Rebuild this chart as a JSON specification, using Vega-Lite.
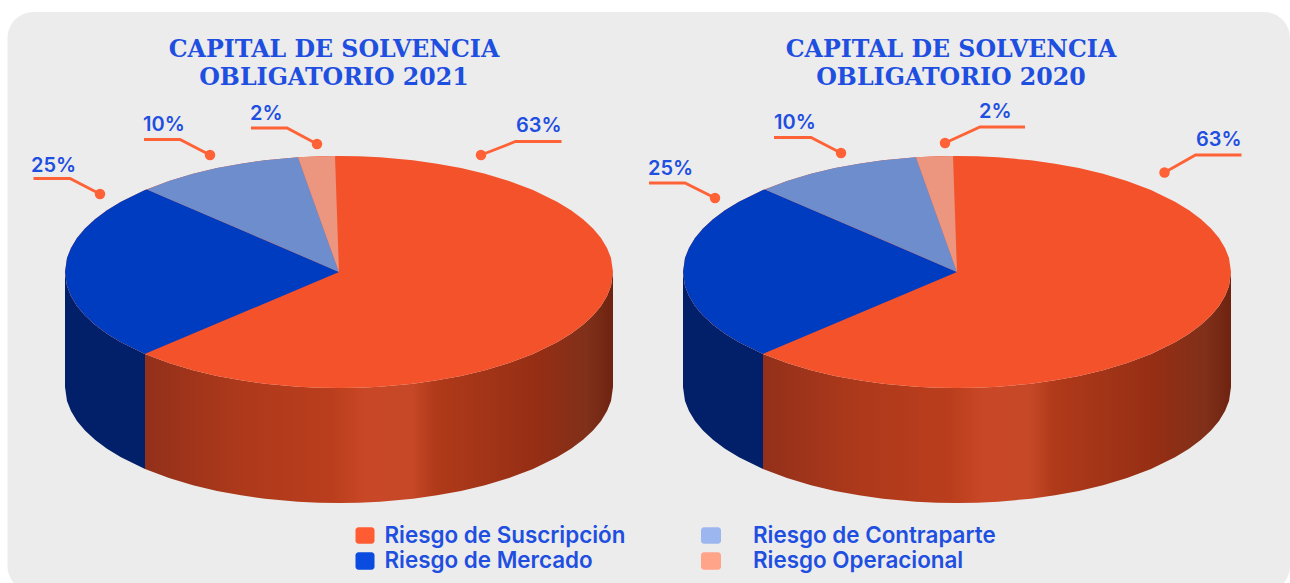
{
"$schema":"https://vega.github.io/schema/vega-lite/v6.json",
"width":1290,"height":583,"padding":0,
"autosize":{"type":"fit","contains":"padding"},
"background":"#ffffff",
"config":{"view":{"stroke":null}},
"datasets":{
"contorno":[
{"anio":2021,"x":6.5,"arriba":27.2,"abajo":27.2,"base":38.7},
{"anio":2021,"x":6.7,"arriba":25.8,"abajo":28.6,"base":40.1},
{"anio":2021,"x":7.1,"arriba":24.79,"abajo":29.61,"base":41.11},
{"anio":2021,"x":7.7,"arriba":23.8,"abajo":30.6,"base":42.1},
{"anio":2021,"x":8.5,"arriba":22.85,"abajo":31.55,"base":43.05},
{"anio":2021,"x":9.5,"arriba":21.92,"abajo":32.48,"base":43.98},
{"anio":2021,"x":10.7,"arriba":21.03,"abajo":33.37,"base":44.87},
{"anio":2021,"x":12.1,"arriba":20.17,"abajo":34.23,"base":45.73},
{"anio":2021,"x":14.5,"arriba":19.01,"abajo":35.39,"base":46.89},
{"anio":2021,"x":16.9,"arriba":18.1,"abajo":36.3,"base":47.8},
{"anio":2021,"x":19.3,"arriba":17.38,"abajo":37.02,"base":48.52},
{"anio":2021,"x":21.7,"arriba":16.81,"abajo":37.59,"base":49.09},
{"anio":2021,"x":24.1,"arriba":16.37,"abajo":38.03,"base":49.53},
{"anio":2021,"x":26.5,"arriba":16.03,"abajo":38.37,"base":49.87},
{"anio":2021,"x":29.8,"arriba":15.73,"abajo":38.67,"base":50.17},
{"anio":2021,"x":31.9,"arriba":15.63,"abajo":38.77,"base":50.27},
{"anio":2021,"x":33.9,"arriba":15.6,"abajo":38.8,"base":50.3},
{"anio":2021,"x":35.9,"arriba":15.63,"abajo":38.77,"base":50.27},
{"anio":2021,"x":38.0,"arriba":15.73,"abajo":38.67,"base":50.17},
{"anio":2021,"x":41.3,"arriba":16.03,"abajo":38.37,"base":49.87},
{"anio":2021,"x":43.7,"arriba":16.37,"abajo":38.03,"base":49.53},
{"anio":2021,"x":46.1,"arriba":16.81,"abajo":37.59,"base":49.09},
{"anio":2021,"x":48.5,"arriba":17.38,"abajo":37.02,"base":48.52},
{"anio":2021,"x":50.9,"arriba":18.1,"abajo":36.3,"base":47.8},
{"anio":2021,"x":53.3,"arriba":19.01,"abajo":35.39,"base":46.89},
{"anio":2021,"x":55.7,"arriba":20.17,"abajo":34.23,"base":45.73},
{"anio":2021,"x":57.1,"arriba":21.03,"abajo":33.37,"base":44.87},
{"anio":2021,"x":58.3,"arriba":21.92,"abajo":32.48,"base":43.98},
{"anio":2021,"x":59.3,"arriba":22.85,"abajo":31.55,"base":43.05},
{"anio":2021,"x":60.1,"arriba":23.8,"abajo":30.6,"base":42.1},
{"anio":2021,"x":60.7,"arriba":24.79,"abajo":29.61,"base":41.11},
{"anio":2021,"x":61.1,"arriba":25.8,"abajo":28.6,"base":40.1},
{"anio":2021,"x":61.3,"arriba":27.2,"abajo":27.2,"base":38.7},
{"anio":2020,"x":68.3,"arriba":27.2,"abajo":27.2,"base":38.7},
{"anio":2020,"x":68.5,"arriba":25.8,"abajo":28.6,"base":40.1},
{"anio":2020,"x":68.9,"arriba":24.79,"abajo":29.61,"base":41.11},
{"anio":2020,"x":69.5,"arriba":23.8,"abajo":30.6,"base":42.1},
{"anio":2020,"x":70.3,"arriba":22.85,"abajo":31.55,"base":43.05},
{"anio":2020,"x":71.3,"arriba":21.92,"abajo":32.48,"base":43.98},
{"anio":2020,"x":72.5,"arriba":21.03,"abajo":33.37,"base":44.87},
{"anio":2020,"x":73.9,"arriba":20.17,"abajo":34.23,"base":45.73},
{"anio":2020,"x":76.3,"arriba":19.01,"abajo":35.39,"base":46.89},
{"anio":2020,"x":78.7,"arriba":18.1,"abajo":36.3,"base":47.8},
{"anio":2020,"x":81.1,"arriba":17.38,"abajo":37.02,"base":48.52},
{"anio":2020,"x":83.5,"arriba":16.81,"abajo":37.59,"base":49.09},
{"anio":2020,"x":85.9,"arriba":16.37,"abajo":38.03,"base":49.53},
{"anio":2020,"x":88.3,"arriba":16.03,"abajo":38.37,"base":49.87},
{"anio":2020,"x":91.6,"arriba":15.73,"abajo":38.67,"base":50.17},
{"anio":2020,"x":93.7,"arriba":15.63,"abajo":38.77,"base":50.27},
{"anio":2020,"x":95.7,"arriba":15.6,"abajo":38.8,"base":50.3},
{"anio":2020,"x":97.7,"arriba":15.63,"abajo":38.77,"base":50.27},
{"anio":2020,"x":99.8,"arriba":15.73,"abajo":38.67,"base":50.17},
{"anio":2020,"x":103.1,"arriba":16.03,"abajo":38.37,"base":49.87},
{"anio":2020,"x":105.5,"arriba":16.37,"abajo":38.03,"base":49.53},
{"anio":2020,"x":107.9,"arriba":16.81,"abajo":37.59,"base":49.09},
{"anio":2020,"x":110.3,"arriba":17.38,"abajo":37.02,"base":48.52},
{"anio":2020,"x":112.7,"arriba":18.1,"abajo":36.3,"base":47.8},
{"anio":2020,"x":115.1,"arriba":19.01,"abajo":35.39,"base":46.89},
{"anio":2020,"x":117.5,"arriba":20.17,"abajo":34.23,"base":45.73},
{"anio":2020,"x":118.9,"arriba":21.03,"abajo":33.37,"base":44.87},
{"anio":2020,"x":120.1,"arriba":21.92,"abajo":32.48,"base":43.98},
{"anio":2020,"x":121.1,"arriba":22.85,"abajo":31.55,"base":43.05},
{"anio":2020,"x":121.9,"arriba":23.8,"abajo":30.6,"base":42.1},
{"anio":2020,"x":122.5,"arriba":24.79,"abajo":29.61,"base":41.11},
{"anio":2020,"x":122.9,"arriba":25.8,"abajo":28.6,"base":40.1},
{"anio":2020,"x":123.1,"arriba":27.2,"abajo":27.2,"base":38.7}
],
"porciones":[
{"anio":2021,"riesgo":"Mercado","x":6.5,"arriba":27.2,"abajo":27.2},
{"anio":2021,"riesgo":"Mercado","x":6.7,"arriba":25.8,"abajo":28.6},
{"anio":2021,"riesgo":"Mercado","x":7.1,"arriba":24.79,"abajo":29.61},
{"anio":2021,"riesgo":"Mercado","x":7.7,"arriba":23.8,"abajo":30.6},
{"anio":2021,"riesgo":"Mercado","x":8.5,"arriba":22.85,"abajo":31.55},
{"anio":2021,"riesgo":"Mercado","x":9.5,"arriba":21.92,"abajo":32.48},
{"anio":2021,"riesgo":"Mercado","x":10.7,"arriba":21.03,"abajo":33.37},
{"anio":2021,"riesgo":"Mercado","x":12.1,"arriba":20.17,"abajo":34.23},
{"anio":2021,"riesgo":"Mercado","x":14.5,"arriba":19.01,"abajo":35.39},
{"anio":2021,"riesgo":"Mercado","x":14.7,"arriba":18.94,"abajo":35.31},
{"anio":2021,"riesgo":"Mercado","x":33.9,"arriba":27.2,"abajo":27.2},
{"anio":2021,"riesgo":"Contraparte","x":14.7,"arriba":18.94,"abajo":18.94},
{"anio":2021,"riesgo":"Contraparte","x":16.9,"arriba":18.1,"abajo":19.89},
{"anio":2021,"riesgo":"Contraparte","x":19.3,"arriba":17.38,"abajo":20.92},
{"anio":2021,"riesgo":"Contraparte","x":21.7,"arriba":16.81,"abajo":21.95},
{"anio":2021,"riesgo":"Contraparte","x":24.1,"arriba":16.37,"abajo":22.98},
{"anio":2021,"riesgo":"Contraparte","x":26.5,"arriba":16.03,"abajo":24.01},
{"anio":2021,"riesgo":"Contraparte","x":29.8,"arriba":15.73,"abajo":25.43},
{"anio":2021,"riesgo":"Contraparte","x":33.9,"arriba":27.2,"abajo":27.2},
{"anio":2021,"riesgo":"Operacional","x":29.8,"arriba":15.73,"abajo":15.73},
{"anio":2021,"riesgo":"Operacional","x":31.6,"arriba":15.64,"abajo":20.77},
{"anio":2021,"riesgo":"Operacional","x":33.5,"arriba":15.6,"abajo":26.08},
{"anio":2021,"riesgo":"Operacional","x":33.9,"arriba":27.2,"abajo":27.2},
{"anio":2020,"riesgo":"Mercado","x":68.3,"arriba":27.2,"abajo":27.2},
{"anio":2020,"riesgo":"Mercado","x":68.5,"arriba":25.8,"abajo":28.6},
{"anio":2020,"riesgo":"Mercado","x":68.9,"arriba":24.79,"abajo":29.61},
{"anio":2020,"riesgo":"Mercado","x":69.5,"arriba":23.8,"abajo":30.6},
{"anio":2020,"riesgo":"Mercado","x":70.3,"arriba":22.85,"abajo":31.55},
{"anio":2020,"riesgo":"Mercado","x":71.3,"arriba":21.92,"abajo":32.48},
{"anio":2020,"riesgo":"Mercado","x":72.5,"arriba":21.03,"abajo":33.37},
{"anio":2020,"riesgo":"Mercado","x":73.9,"arriba":20.17,"abajo":34.23},
{"anio":2020,"riesgo":"Mercado","x":76.3,"arriba":19.01,"abajo":35.39},
{"anio":2020,"riesgo":"Mercado","x":76.5,"arriba":18.94,"abajo":35.31},
{"anio":2020,"riesgo":"Mercado","x":95.7,"arriba":27.2,"abajo":27.2},
{"anio":2020,"riesgo":"Contraparte","x":76.5,"arriba":18.94,"abajo":18.94},
{"anio":2020,"riesgo":"Contraparte","x":78.7,"arriba":18.1,"abajo":19.89},
{"anio":2020,"riesgo":"Contraparte","x":81.1,"arriba":17.38,"abajo":20.92},
{"anio":2020,"riesgo":"Contraparte","x":83.5,"arriba":16.81,"abajo":21.95},
{"anio":2020,"riesgo":"Contraparte","x":85.9,"arriba":16.37,"abajo":22.98},
{"anio":2020,"riesgo":"Contraparte","x":88.3,"arriba":16.03,"abajo":24.01},
{"anio":2020,"riesgo":"Contraparte","x":91.6,"arriba":15.73,"abajo":25.43},
{"anio":2020,"riesgo":"Contraparte","x":95.7,"arriba":27.2,"abajo":27.2},
{"anio":2020,"riesgo":"Operacional","x":91.6,"arriba":15.73,"abajo":15.73},
{"anio":2020,"riesgo":"Operacional","x":93.4,"arriba":15.64,"abajo":20.77},
{"anio":2020,"riesgo":"Operacional","x":95.3,"arriba":15.6,"abajo":26.08},
{"anio":2020,"riesgo":"Operacional","x":95.7,"arriba":27.2,"abajo":27.2}
],
"guias":[
{"serie":"2021-Mercado","x":3.35,"y":17.85,"punta":false},
{"serie":"2021-Mercado","x":7.0,"y":17.85,"punta":false},
{"serie":"2021-Mercado","x":10.0,"y":19.4,"punta":true},
{"serie":"2021-Contraparte","x":14.4,"y":13.95,"punta":false},
{"serie":"2021-Contraparte","x":18.0,"y":13.95,"punta":false},
{"serie":"2021-Contraparte","x":21.0,"y":15.5,"punta":true},
{"serie":"2021-Operacional","x":25.1,"y":12.8,"punta":false},
{"serie":"2021-Operacional","x":28.7,"y":12.8,"punta":false},
{"serie":"2021-Operacional","x":31.7,"y":14.4,"punta":true},
{"serie":"2021-Suscripcion","x":48.1,"y":15.5,"punta":true},
{"serie":"2021-Suscripcion","x":51.55,"y":14.15,"punta":false},
{"serie":"2021-Suscripcion","x":56.15,"y":14.15,"punta":false},
{"serie":"2020-Mercado","x":64.9,"y":18.3,"punta":false},
{"serie":"2020-Mercado","x":68.5,"y":18.3,"punta":false},
{"serie":"2020-Mercado","x":71.5,"y":19.8,"punta":true},
{"serie":"2020-Contraparte","x":77.4,"y":13.75,"punta":false},
{"serie":"2020-Contraparte","x":81.1,"y":13.75,"punta":false},
{"serie":"2020-Contraparte","x":84.1,"y":15.3,"punta":true},
{"serie":"2020-Operacional","x":94.5,"y":14.3,"punta":true},
{"serie":"2020-Operacional","x":98.0,"y":12.7,"punta":false},
{"serie":"2020-Operacional","x":102.5,"y":12.7,"punta":false},
{"serie":"2020-Suscripcion","x":116.45,"y":17.25,"punta":true},
{"serie":"2020-Suscripcion","x":119.55,"y":15.5,"punta":false},
{"serie":"2020-Suscripcion","x":124.15,"y":15.5,"punta":false}
],
"porcentajes":[
{"anio":2021,"riesgo":"Mercado","valor":0.25,"x":3.1,"y":17.2},
{"anio":2021,"riesgo":"Contraparte","valor":0.10,"x":14.3,"y":13.07},
{"anio":2021,"riesgo":"Operacional","valor":0.02,"x":25.0,"y":12.0},
{"anio":2021,"riesgo":"Suscripcion","valor":0.63,"x":51.6,"y":13.17},
{"anio":2020,"riesgo":"Mercado","valor":0.25,"x":64.8,"y":17.5},
{"anio":2020,"riesgo":"Contraparte","valor":0.10,"x":77.4,"y":12.9},
{"anio":2020,"riesgo":"Operacional","valor":0.02,"x":97.9,"y":11.8},
{"anio":2020,"riesgo":"Suscripcion","valor":0.63,"x":119.6,"y":14.57}
],
"titulos":[
{"t":"CAPITAL DE SOLVENCIA","x":33.4,"y":5.67},
{"t":"OBLIGATORIO 2021","x":33.4,"y":8.47},
{"t":"CAPITAL DE SOLVENCIA","x":95.1,"y":5.67},
{"t":"OBLIGATORIO 2020","x":95.1,"y":8.47}
],
"leyenda":[
{"t":"Riesgo de Suscripción","c":"Suscripcion","x0":35.55,"x1":37.45,"y0":52.73,"y1":54.37,"x":38.45,"y":54.3},
{"t":"Riesgo de Mercado","c":"Mercado","x0":35.55,"x1":37.45,"y0":55.23,"y1":56.97,"x":38.45,"y":56.8},
{"t":"Riesgo de Contraparte","c":"Contraparte","x0":70.1,"x1":72.1,"y0":52.73,"y1":54.37,"x":75.3,"y":54.3},
{"t":"Riesgo Operacional","c":"Operacional","x0":70.1,"x1":72.1,"y0":55.23,"y1":56.97,"x":75.3,"y":56.8}
]
},
"encoding":{
"x":{"field":"x","type":"quantitative","scale":{"domain":[0,129],"nice":false,"zero":false},"axis":null},
"y":{"field":"y","type":"quantitative","scale":{"domain":[58.3,0],"nice":false,"zero":false},"axis":null}
},
"layer":[
{"data":{"values":[{"a":0.75,"b":129,"c":1.2,"d":59.2}]},"mark":{"type":"rect","color":"#ececec","cornerRadius":26,"clip":true},
 "encoding":{"x":{"field":"a","type":"quantitative"},"x2":{"field":"b"},"y":{"field":"c","type":"quantitative"},"y2":{"field":"d"}}},
{"data":{"name":"contorno"},"transform":[{"filter":"datum.x<=14.5 || (datum.x>=68 && datum.x<=76.3)"}],
 "mark":{"type":"area","orient":"vertical","color":"#012069"},
 "encoding":{"y":{"field":"abajo","type":"quantitative"},"y2":{"field":"base"},"detail":{"field":"anio"}}},
{"data":{"name":"contorno"},"transform":[{"filter":"(datum.x>=14.5 && datum.x<=62) || datum.x>=76.3"}],
 "mark":{"type":"area","orient":"vertical","color":{"gradient":"linear","x1":0,"y1":0,"x2":1,"y2":0,"stops":[
   {"offset":0,"color":"#93301a"},{"offset":0.2,"color":"#ad391b"},{"offset":0.4,"color":"#ba3e1d"},{"offset":0.47,"color":"#c84726"},{"offset":0.57,"color":"#c64827"},{"offset":0.62,"color":"#b03a1a"},{"offset":0.84,"color":"#952e14"},{"offset":0.945,"color":"#80301a"},{"offset":1,"color":"#6e2310"}]}},
 "encoding":{"y":{"field":"abajo","type":"quantitative"},"y2":{"field":"base"},"detail":{"field":"anio"}}},
{"data":{"name":"contorno"},"mark":{"type":"area","orient":"vertical","color":"#f4522a"},
 "encoding":{"y":{"field":"arriba","type":"quantitative"},"y2":{"field":"abajo"},"detail":{"field":"anio"}}},
{"data":{"name":"porciones"},"mark":{"type":"area","orient":"vertical"},
 "encoding":{"y":{"field":"arriba","type":"quantitative"},"y2":{"field":"abajo"},"detail":{"field":"anio"},
  "color":{"field":"riesgo","type":"nominal","legend":null,"scale":{"domain":["Mercado","Contraparte","Operacional"],"range":["#003cc0","#6e8dcc","#ec9680"]}}}},
{"data":{"name":"guias"},"mark":{"type":"line","color":"#ff6236","strokeWidth":2.8},
 "encoding":{"detail":{"field":"serie"}}},
{"data":{"name":"guias"},"transform":[{"filter":"datum.punta"}],"mark":{"type":"circle","color":"#ff6236","size":110,"opacity":1}},
{"data":{"name":"porcentajes"},"mark":{"type":"text","align":"left","baseline":"alphabetic","font":"Inter","fontSize":20,"fontWeight":600,"color":"#1f4fe0"},
 "encoding":{"text":{"field":"valor","type":"quantitative","format":".0%"}}},
{"data":{"name":"titulos"},"mark":{"type":"text","align":"center","baseline":"alphabetic","font":"DejaVu Serif","fontSize":23.7,"fontWeight":"bold","color":"#1f4fe0"},
 "encoding":{"text":{"field":"t"}}},
{"data":{"name":"leyenda"},"mark":{"type":"rect","cornerRadius":3},
 "encoding":{"x":{"field":"x0","type":"quantitative"},"x2":{"field":"x1"},"y":{"field":"y0","type":"quantitative"},"y2":{"field":"y1"},
  "fill":{"field":"c","type":"nominal","legend":null,"scale":{"domain":["Suscripcion","Mercado","Contraparte","Operacional"],"range":["#ff5c33","#0a4be0","#9cb7ef","#ffa389"]}}}},
{"data":{"name":"leyenda"},"mark":{"type":"text","align":"left","baseline":"alphabetic","font":"Inter","fontSize":22.4,"fontWeight":600,"color":"#1f4fe0"},
 "encoding":{"text":{"field":"t"}}}
],
"resolve":{"scale":{"color":"independent","fill":"independent"}}
}
